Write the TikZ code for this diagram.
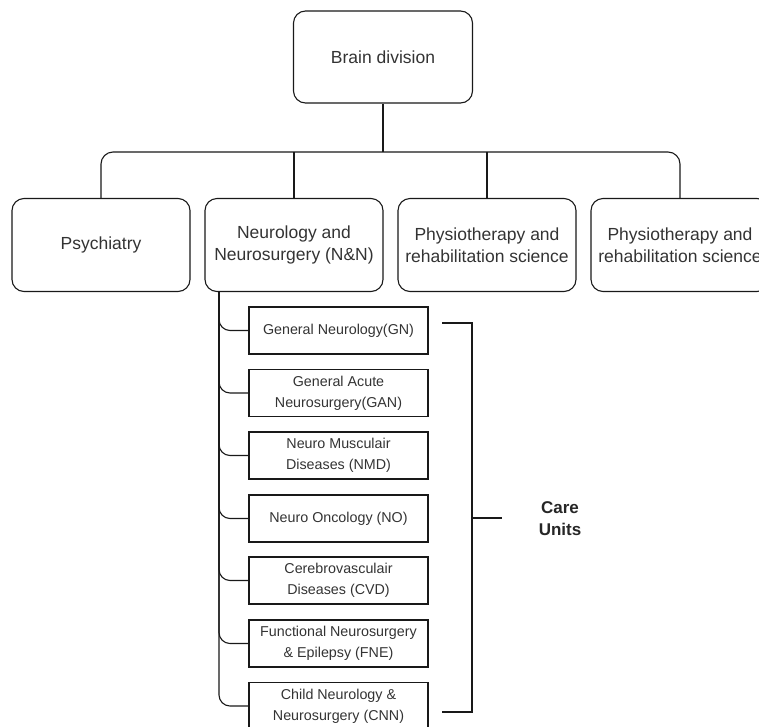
\documentclass[tikz,border=0pt]{standalone}
\usepackage{fontspec}
\setmainfont{Liberation Sans}
\begin{document}
\begin{tikzpicture}[x=1pt,y=-1pt,
  line width=1.1pt,
  mainbox/.style={draw=black!90, rounded corners=12pt, minimum width=178pt, minimum height=93pt,
    align=center, text=black!80, font=\fontsize{17.5}{22}\selectfont, inner sep=0pt},
  unitbox/.style={draw=black!90, minimum width=179pt, minimum height=47pt,
    align=center, text=black!80, font=\fontsize{14.3}{21}\selectfont, inner sep=0pt},
  conn/.style={draw=black!90, line width=1.1pt},
  bracket/.style={draw=black!90, line width=2.6pt}]
\useasboundingbox (0,0) rectangle (759,726);

\node[mainbox, minimum width=179pt, minimum height=92pt] (top) at (383,57) {Brain division};
\node[mainbox] (psy) at (101,245) {Psychiatry};
\node[mainbox] (nn) at (294,245) {Neurology and\\Neurosurgery (N\&N)};
\node[mainbox] (ph1) at (487,245) {Physiotherapy and\\rehabilitation science};
\node[mainbox] (ph2) at (680,245) {Physiotherapy and\\rehabilitation science};

\coordinate (bus) at (383,152);
\draw[conn] (top.south) -- (bus);
\draw[conn, rounded corners=12pt] (psy.north) |- (bus) -| (ph2.north);
\draw[conn] (nn.north) -- (nn.north |- bus);
\draw[conn] (ph1.north) -- (ph1.north |- bus);

\node[unitbox] (gn) at (338.5,330.5) {General Neurology(GN)};
\node[unitbox] (gan) at (338.5,393) {General Acute\\Neurosurgery(GAN)};
\node[unitbox] (nmd) at (338.5,455.5) {Neuro Musculair\\Diseases (NMD)};
\node[unitbox] (no) at (338.5,518.5) {Neuro Oncology (NO)};
\node[unitbox] (cvd) at (338.5,580.5) {Cerebrovasculair\\Diseases (CVD)};
\node[unitbox] (fne) at (338.5,643.5) {Functional Neurosurgery\\\& Epilepsy (FNE)};
\node[unitbox] (cnn) at (338.5,706) {Child Neurology \&\\Neurosurgery (CNN)};

\coordinate (spine) at (219,291.5);
\foreach \u in {gn,gan,nmd,no,cvd,fne,cnn}{
  \draw[conn, rounded corners=11pt] (spine) |- (\u.west);
}

\coordinate (btop) at (442,323);
\coordinate (bbot) at (442,712);
\coordinate (bcorner1) at (472,323);
\coordinate (bcorner2) at (472,712);
\coordinate (bmid) at (472,518);
\coordinate (btick) at (502,518);
\draw[bracket] (btop) -- (bcorner1) -- (bcorner2) -- (bbot);
\draw[bracket] (bmid) -- (btick);

\node[align=center, text=black!85, font=\fontsize{17}{22}\selectfont\bfseries] (care) at (560,519) {Care\\Units};
\end{tikzpicture}
\end{document}
